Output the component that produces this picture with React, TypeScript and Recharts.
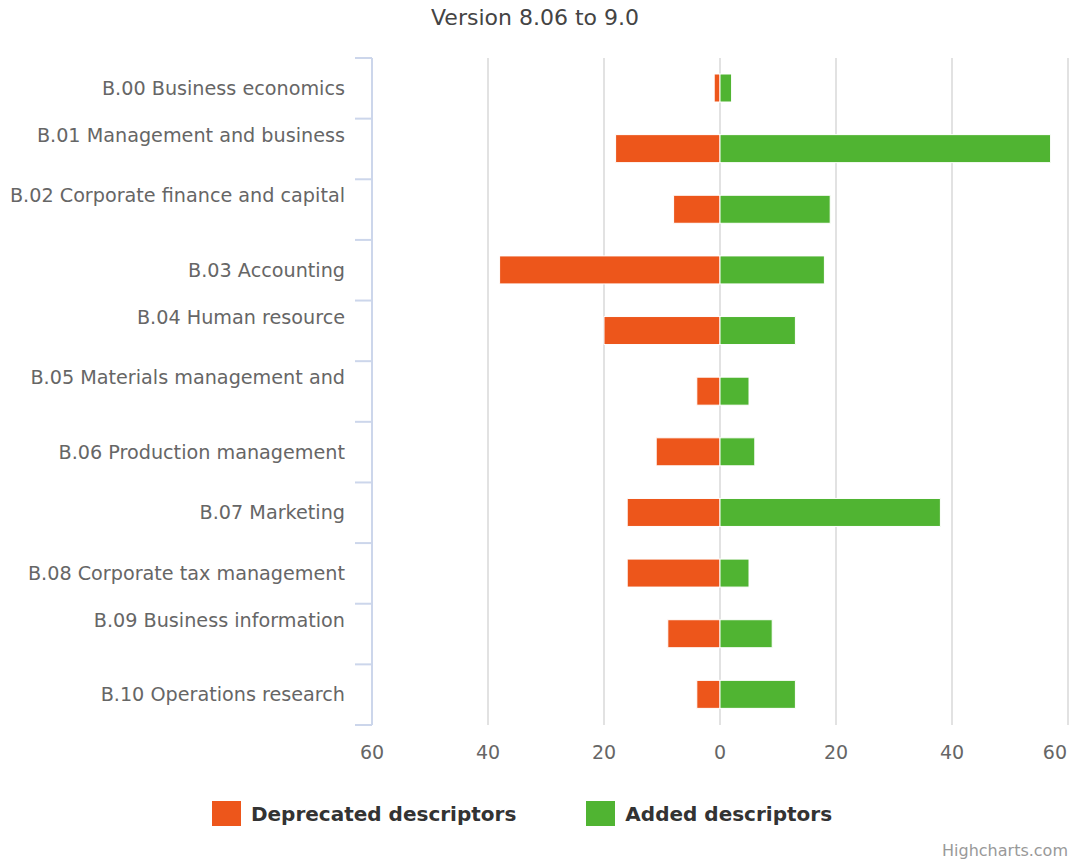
import React from 'react';
import {
  BarChart, Bar, XAxis, YAxis, CartesianGrid, Legend
} from 'recharts';

// Categories (first line of each label as shown)
const categories = [
  'B.00 Business economics',
  'B.01 Management and business',
  'B.02 Corporate finance and capital',
  'B.03 Accounting',
  'B.04 Human resource',
  'B.05 Materials management and',
  'B.06 Production management',
  'B.07 Marketing',
  'B.08 Corporate tax management',
  'B.09 Business information',
  'B.10 Operations research',
];

// labels that wrap onto a second (hidden) line in the original
const wrappedLabels = [
  'B.01 Management and business',
  'B.02 Corporate finance and capital',
  'B.04 Human resource',
  'B.05 Materials management and',
  'B.09 Business information',
];

// Descriptor counts
const deprecated = [1, 18, 8, 38, 20, 4, 11, 16, 16, 9, 4];
const added = [2, 57, 19, 18, 13, 5, 6, 38, 5, 9, 13];

const xTicks = [-60, -40, -20, 0, 20, 40, 60];
const seriesOrder = ['deprecated', 'added'];

const data = categories.map((name, i) => ({
  name,
  deprecated: -deprecated[i],
  added: added[i],
}));

const WIDTH = 1070;
const HEIGHT = 861;
const PLOT_TOP = 58;
const PLOT_BOTTOM = 725;
const BAND = (PLOT_BOTTOM - PLOT_TOP) / categories.length;
const FONT = '"DejaVu Sans", Verdana, sans-serif';

const CategoryTick = (props: any) => {
  const { x, y, payload, index } = props;
  const label: string = payload.value;
  const shift = wrappedLabels.includes(label) ? -14 : 0;
  const axisX = x + 27;
  return (
    <g>
      <line x1={axisX - 17} x2={axisX} y1={y - BAND / 2} y2={y - BAND / 2} stroke="#ccd6eb" strokeWidth={2} />
      {index === categories.length - 1 && (
        <line x1={axisX - 17} x2={axisX} y1={y + BAND / 2} y2={y + BAND / 2} stroke="#ccd6eb" strokeWidth={2} />
      )}
      <text x={x} y={y + shift} dy="0.35em" textAnchor="end" fill="#666" fontSize={19.2} fontFamily={FONT}>
        {label}
      </text>
    </g>
  );
};

const ValueTick = (props: any) => {
  const { x, y, payload } = props;
  const text = `${Math.abs(payload.value)}`;
  // keep the last label inside the chart, like the original does
  const atEdge = x + 14 > WIDTH;
  return (
    <text
      x={atEdge ? WIDTH - 3 : x}
      y={y}
      dy="0.71em"
      textAnchor={atEdge ? 'end' : 'middle'}
      fill="#666"
      fontSize={19}
      fontFamily={FONT}
    >
      {text}
    </text>
  );
};

const LegendContent = (props: any) => {
  const payload = [...(props.payload || [])].sort(
    (a: any, b: any) => seriesOrder.indexOf(a.dataKey) - seriesOrder.indexOf(b.dataKey)
  );
  return (
    <div style={{ display: 'flex', justifyContent: 'center', gap: 70, fontFamily: FONT, paddingRight: 26 }}>
      {payload.map((entry: any) => (
        <div key={entry.value} style={{ display: 'flex', alignItems: 'center' }}>
          <span style={{ display: 'inline-block', width: 29, height: 25, background: entry.color, marginRight: 10 }} />
          <span style={{ fontSize: 20, fontWeight: 'bold', color: '#333' }}>{entry.value}</span>
        </div>
      ))}
    </div>
  );
};

export default function App() {
  return (
    <div style={{ position: 'absolute', left: 0, top: 0, width: WIDTH, height: HEIGHT, background: '#fff' }}>
      <style>{'body{margin:0}'}</style>
      <div style={{ position: 'absolute', top: 5, left: 0, width: WIDTH, textAlign: 'center', fontFamily: FONT, fontSize: 22, color: '#444' }}>
        Version 8.06 to 9.0
      </div>
      <BarChart
        width={WIDTH}
        height={HEIGHT}
        data={data}
        layout="vertical"
        stackOffset="sign"
        barSize={28}
        margin={{ top: PLOT_TOP, right: 2, left: 0, bottom: HEIGHT - PLOT_BOTTOM - 40 }}
      >
        <CartesianGrid horizontal={false} stroke="#d8d8d8" strokeWidth={1.5} />
        <XAxis
          type="number"
          domain={[-60, 60]}
          ticks={xTicks}
          axisLine={false}
          tickLine={false}
          tickSize={0}
          tickMargin={21}
          height={40}
          interval={0}
          tick={<ValueTick />}
        />
        <YAxis
          type="category"
          dataKey="name"
          width={372}
          axisLine={{ stroke: '#ccd6eb', strokeWidth: 2 }}
          tickLine={false}
          tickSize={0}
          tickMargin={27}
          interval={0}
          tick={<CategoryTick />}
        />
        <Legend
          layout="horizontal"
          verticalAlign="middle"
          align="center"
          wrapperStyle={{ top: 801, left: 0, width: WIDTH }}
          content={<LegendContent />}
        />
        <Bar dataKey="deprecated" name="Deprecated descriptors" stackId="a" fill="#ED561B" stroke="#fff" strokeWidth={1} isAnimationActive={false} />
        <Bar dataKey="added" name="Added descriptors" stackId="a" fill="#50B432" stroke="#fff" strokeWidth={1} isAnimationActive={false} />
      </BarChart>
      <div style={{ position: 'absolute', right: 2, top: 841, fontFamily: FONT, fontSize: 16, color: '#999' }}>
        Highcharts.com
      </div>
    </div>
  );
}
